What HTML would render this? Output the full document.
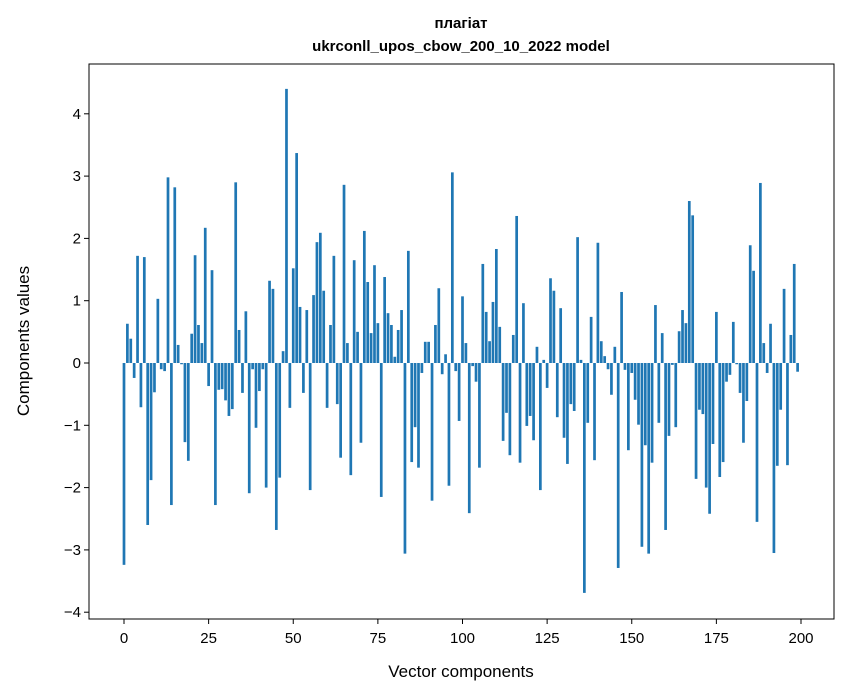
<!DOCTYPE html>
<html><head><meta charset="utf-8"><style>
body{margin:0;background:#fff;}
svg{display:block;font-family:"Liberation Sans","DejaVu Sans",sans-serif;}
</style></head><body>
<svg id="chart" width="847" height="696" xmlns="http://www.w3.org/2000/svg">
<rect width="847" height="696" fill="#fff"/>
<text x="461" y="28" text-anchor="middle" font-size="15" font-weight="bold">плагіат</text>
<text x="461" y="51" text-anchor="middle" font-size="15" font-weight="bold">ukrconll_upos_cbow_200_10_2022 model</text>
<g id="bars"></g>
<g id="axes"></g>
<rect x="89" y="64" width="745" height="555" fill="none" stroke="#000" stroke-width="1"/>
<text x="461" y="677" text-anchor="middle" font-size="17">Vector components</text>
<text x="29" y="341" text-anchor="middle" font-size="17" transform="rotate(-90 29 341)">Components values</text>
</svg>
<script>
const values = [-3.24,0.63,0.39,-0.24,1.72,-0.71,1.70,-2.6,-1.88,-0.47,1.03,-0.1,-0.13,2.98,-2.28,2.82,0.29,-0.02,-1.27,-1.57,0.47,1.73,0.61,0.32,2.17,-0.37,1.49,-2.28,-0.43,-0.42,-0.6,-0.85,-0.74,2.9,0.53,-0.48,0.83,-2.09,-0.1,-1.04,-0.45,-0.1,-2.0,1.32,1.19,-2.68,-1.84,0.19,4.4,-0.72,
1.52,3.37,0.9,-0.48,0.85,-2.04,1.09,1.94,2.09,1.16,-0.72,0.61,1.72,-0.66,-1.52,2.86,0.32,-1.8,1.65,0.5,-1.28,2.12,1.3,0.48,1.57,0.64,-2.15,1.38,0.8,0.61,0.1,0.53,0.85,-3.06,1.8,-1.59,-1.03,-1.68,-0.16,0.34,0.34,-2.21,0.61,1.2,-0.18,0.14,-1.97,3.06,-0.13,-0.93,
1.07,0.32,-2.41,-0.05,-0.3,-1.68,1.59,0.82,0.35,0.98,1.83,0.58,-1.25,-0.8,-1.48,0.45,2.36,-1.6,0.96,-1.01,-0.85,-1.24,0.26,-2.04,0.05,-0.4,1.36,1.16,-0.87,0.88,-1.2,-1.62,-0.66,-0.77,2.02,0.05,-3.69,-0.96,0.74,-1.56,1.93,0.35,0.11,-0.1,-0.51,0.26,-3.29,1.14,-0.11,-1.4,
-0.16,-0.59,-0.99,-2.95,-1.32,-3.06,-1.6,0.93,-0.96,0.48,-2.68,-1.17,-0.03,-1.03,0.51,0.85,0.64,2.6,2.37,-1.86,-0.75,-0.82,-2.0,-2.42,-1.3,0.82,-1.83,-1.59,-0.3,-0.19,0.66,-0.02,-0.48,-1.28,-0.61,1.89,1.48,-2.55,2.89,0.32,-0.16,0.63,-3.05,-1.65,-0.75,1.19,-1.64,0.45,1.59,-0.14];
const xTicks = [0,25,50,75,100,125,150,175,200];
const yTicks = [-4,-3,-2,-1,0,1,2,3,4];
const NS="http://www.w3.org/2000/svg";
function xs(v){return 124+v*3.385;}
function ys(v){return 363-v*62.3;}
const bars=document.getElementById('bars');
values.forEach((v,i)=>{
  const r=document.createElementNS(NS,'rect');
  const w=3.385*0.8;
  r.setAttribute('x',xs(i)-w/2);
  r.setAttribute('y',Math.min(ys(v),ys(0)));
  r.setAttribute('width',w);
  r.setAttribute('height',Math.abs(ys(v)-ys(0)));
  r.setAttribute('fill','#1f77b4');
  
  
  bars.appendChild(r);
});
const axes=document.getElementById('axes');
xTicks.forEach(t=>{
  const l=document.createElementNS(NS,'line');
  l.setAttribute('x1',xs(t));l.setAttribute('x2',xs(t));l.setAttribute('y1',619);l.setAttribute('y2',624);l.setAttribute('stroke','#000');
  
  
  axes.appendChild(l);
  const tx=document.createElementNS(NS,'text');
  tx.setAttribute('x',xs(t));tx.setAttribute('y',643);tx.setAttribute('text-anchor','middle');tx.setAttribute('font-size','15');
  tx.textContent=t;
  
  
  axes.appendChild(tx);
});
yTicks.forEach(t=>{
  const l=document.createElementNS(NS,'line');
  l.setAttribute('x1',84);l.setAttribute('x2',89);l.setAttribute('y1',ys(t));l.setAttribute('y2',ys(t));l.setAttribute('stroke','#000');
  
  
  axes.appendChild(l);
  const tx=document.createElementNS(NS,'text');
  tx.setAttribute('x',81);tx.setAttribute('y',ys(t)+5);tx.setAttribute('text-anchor','end');tx.setAttribute('font-size','15');
  tx.textContent=t<0?'\u2212'+Math.abs(t):String(t);
  
  
  axes.appendChild(tx);
});
</script>
</body></html>
